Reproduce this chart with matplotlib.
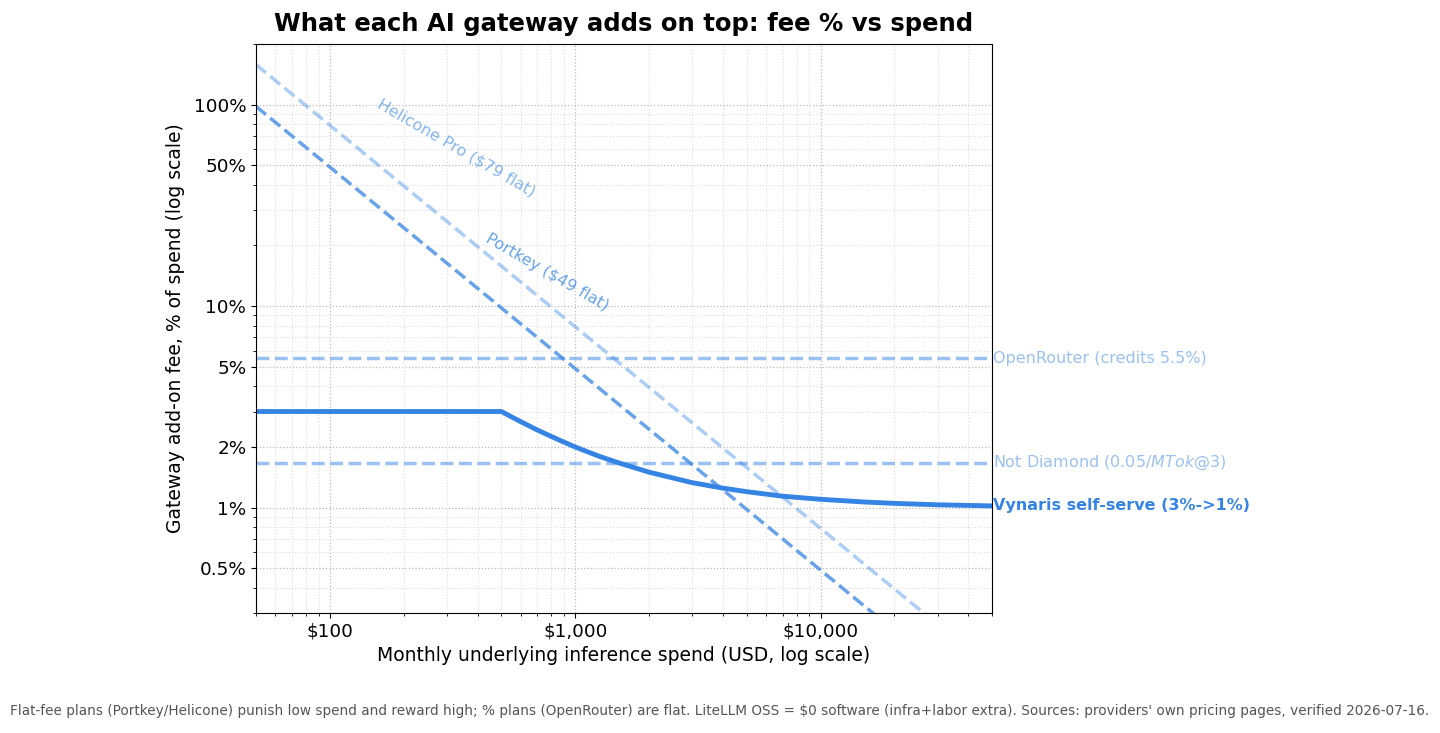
import matplotlib
matplotlib.use('Agg')
import matplotlib.pyplot as plt
from matplotlib.ticker import FuncFormatter, FixedLocator, LogLocator, NullFormatter

# ── data ─────────────────────────────────────────────────────────────────────
spend_range = [50, 50000]

portkey_fee  = [98.0, 0.098]      # $49 flat
helicone_fee = [158.0, 0.158]     # $79 flat
openrouter_fee = [5.5, 5.5]
notdiamond_fee = [1.67, 1.67]

vyn_spend = [50, 100, 200, 500, 600, 700, 850, 1000, 1250, 1500, 2000, 3000,
             4000, 5000, 7000, 10000, 15000, 20000, 30000, 50000]
vyn_fee   = [3.0, 3.0, 3.0, 3.0, 2.67, 2.43, 2.18, 2.0, 1.8, 1.67, 1.5, 1.33,
             1.25, 1.2, 1.14, 1.1, 1.067, 1.05, 1.033, 1.02]

y_ticks = [0.5, 1, 2, 5, 10, 50, 100]
x_ticks = [100, 1000, 10000]

BLUE = '#3584e4'

fig = plt.figure(figsize=(14.4, 7.33), dpi=100)
ax = fig.add_axes([0.1778, 0.1637, 0.5111, 0.7763])

ax.plot(spend_range, helicone_fee, '--', color=BLUE, alpha=0.4, lw=2.5)
ax.plot(spend_range, portkey_fee, '--', color=BLUE, alpha=0.75, lw=2.5)
ax.plot(spend_range, openrouter_fee, '--', color=BLUE, alpha=0.5, lw=2.5)
ax.plot(spend_range, notdiamond_fee, '--', color=BLUE, alpha=0.5, lw=2.5)
ax.plot(vyn_spend, vyn_fee, '-', color=BLUE, lw=3.5)

ax.set_xscale('log')
ax.set_yscale('log')
ax.set_xlim(50, 50000)
ax.set_ylim(0.3, 200)

ax.yaxis.set_major_locator(FixedLocator(y_ticks))
ax.yaxis.set_major_formatter(FuncFormatter(lambda v, p: f"{v:g}%"))
ax.yaxis.set_minor_locator(LogLocator(base=10, subs=range(2, 10)))
ax.yaxis.set_minor_formatter(NullFormatter())
ax.xaxis.set_major_locator(FixedLocator(x_ticks))
ax.xaxis.set_major_formatter(FuncFormatter(lambda v, p: f"${v:,.0f}"))
ax.xaxis.set_minor_locator(LogLocator(base=10, subs=range(2, 10)))
ax.xaxis.set_minor_formatter(NullFormatter())
ax.tick_params(axis='both', which='major', labelsize=13.2)

ax.grid(True, which='major', linestyle=':', color='#bbbbbb', linewidth=0.9)
ax.grid(True, which='minor', linestyle=':', color='#dddddd', linewidth=0.8)

ax.set_title('What each AI gateway adds on top: fee % vs spend',
             fontsize=17.5, fontweight='bold', pad=9)
ax.set_xlabel('Monthly underlying inference spend (USD, log scale)', fontsize=13.5)
ax.set_ylabel('Gateway add-on fee, % of spend (log scale)', fontsize=13.5,
              labelpad=6)

# labels
ax.text(327, 61, 'Helicone Pro ($79 flat)', color=BLUE, alpha=0.6,
        fontsize=11.5, rotation=-30, ha='center', va='center')
ax.text(770, 14.7, 'Portkey ($49 flat)', color=BLUE, alpha=0.75,
        fontsize=11.5, rotation=-30, ha='center', va='center')
ax.text(50500, 5.5, 'OpenRouter (credits 5.5%)', color=BLUE, alpha=0.5,
        fontsize=11.5, ha='left', va='center', clip_on=False)
ax.text(50500, 1.67, 'Not Diamond (0.05/$MTok@$3)', color=BLUE, alpha=0.5,
        fontsize=11.5, ha='left', va='center', clip_on=False)
ax.text(50500, 1.02, 'Vynaris self-serve (3%->1%)', color=BLUE,
        fontsize=11.5, fontweight='bold', ha='left', va='center', clip_on=False)

fig.text(0.5, 0.03,
         "Flat-fee plans (Portkey/Helicone) punish low spend and reward high; "
         "% plans (OpenRouter) are flat. LiteLLM OSS = $0 software (infra+labor extra). "
         "Sources: providers' own pricing pages, verified 2026-07-16.",
         ha='center', va='center', fontsize=9.8, color='#555555')

fig.savefig('out.png', dpi=100)
